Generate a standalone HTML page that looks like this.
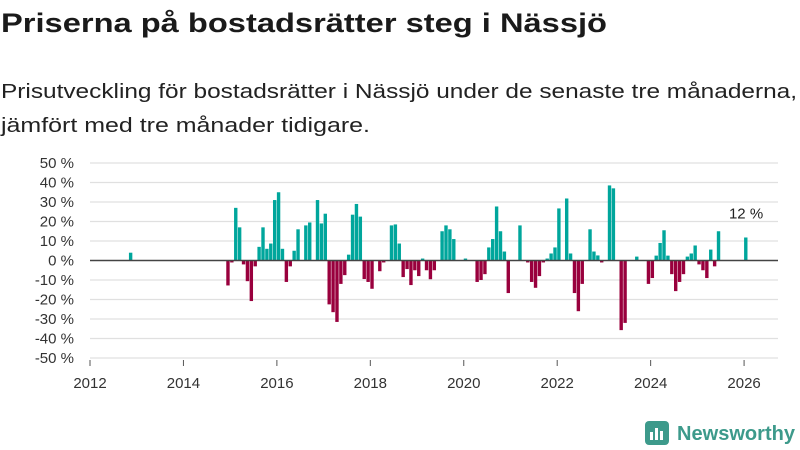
<!DOCTYPE html>
<html><head><meta charset="utf-8"><style>
html,body{margin:0;padding:0;background:#fff;width:800px;height:450px;overflow:hidden}
svg text{font-family:"Liberation Sans",sans-serif}
</style></head><body>
<svg id="chart" width="800" height="450" xmlns="http://www.w3.org/2000/svg">
<text x="1" y="32" font-size="27" font-weight="bold" fill="#1a1a1a" textLength="606" lengthAdjust="spacingAndGlyphs">Priserna på bostadsrätter steg i Nässjö</text>
<text x="1" y="98" font-size="20" fill="#222" textLength="796" lengthAdjust="spacingAndGlyphs">Prisutveckling för bostadsrätter i Nässjö under de senaste tre månaderna,</text>
<text x="1" y="132" font-size="20" fill="#222" textLength="369" lengthAdjust="spacingAndGlyphs">jämfört med tre månader tidigare.</text>
<g id="grid"></g>
<g id="yaxis"></g>
<g id="xaxis"></g>
<g id="bars"></g>
<g>
<rect x="645" y="421" width="24" height="24" rx="4" fill="#3d9a8b"/>
<rect x="650" y="432" width="3" height="8" fill="#fff"/><rect x="655" y="428" width="3" height="12" fill="#fff"/><rect x="660" y="431" width="3" height="9" fill="#fff"/>
<text x="677" y="440" font-size="20" font-weight="bold" fill="#3d9a8b" textLength="118" lengthAdjust="spacingAndGlyphs">Newsworthy</text>
</g>
</svg>
<script>
const months = ["2012-11","2014-12","2015-01","2015-02","2015-03","2015-04","2015-05","2015-06","2015-07","2015-08","2015-09","2015-10","2015-11","2015-12","2016-01","2016-02","2016-03","2016-04","2016-05","2016-06","2016-08","2016-09","2016-11","2016-12","2017-01","2017-02","2017-03","2017-04","2017-05","2017-06","2017-07","2017-08","2017-09","2017-10","2017-11","2017-12","2018-01","2018-03","2018-04","2018-06","2018-07","2018-08","2018-09","2018-10","2018-11","2018-12","2019-01","2019-02","2019-03","2019-04","2019-05","2019-07","2019-08","2019-09","2019-10","2020-01","2020-04","2020-05","2020-06","2020-07","2020-08","2020-09","2020-10","2020-11","2020-12","2021-03","2021-05","2021-06","2021-07","2021-08","2021-09","2021-10","2021-11","2021-12","2022-01","2022-03","2022-04","2022-05","2022-06","2022-07","2022-09","2022-10","2022-11","2022-12","2023-02","2023-03","2023-05","2023-06","2023-09","2023-12","2024-01","2024-02","2024-03","2024-04","2024-05","2024-06","2024-07","2024-08","2024-09","2024-10","2024-11","2024-12","2025-01","2025-02","2025-03","2025-04","2025-05","2025-06","2026-01"];
const values = [4,-12.8,-1,27,17,-2,-10.6,-20.8,-3,7,17,6,8.7,31,35,6,-11,-3,5,16,18,19.5,31,19,24,-22.5,-26.5,-31.5,-12,-7.5,3,23.5,29,22.5,-9.5,-11,-14.5,-5.5,-1,18,18.5,8.7,-8.5,-4.4,-12.6,-5,-8,1,-5,-9.6,-5,15,18,16,11,1,-11,-10,-7,6.7,11,27.7,15,4.6,-16.7,18,-1,-11,-14,-8,-1,1,3.6,6.7,26.7,31.8,3.6,-16.7,-26,-12,16,4.6,2.6,-1,38.5,37,-35.7,-32,2,-12,-9,2.5,9,15.5,2.5,-7,-15.7,-11,-7,2,3.6,7.7,-2,-5,-9,5.6,-3,15,11.8];
const yTicks = [50,40,30,20,10,0,-10,-20,-30,-40,-50];
const xTicks = [2012,2014,2016,2018,2020,2022,2024,2026];
const NS="http://www.w3.org/2000/svg";
const x0=90, yearW=46.72, yZero=260.5, pxPerPct=1.95;
const xScale = t => x0 + (t-2012)*yearW;
const yScale = v => yZero - v*pxPerPct;
function mk(tag, attrs, parent){const e=document.createElementNS(NS,tag);for(const k in attrs)e.setAttribute(k,attrs[k]);parent.appendChild(e);return e;}
const grid=document.getElementById('grid'), ya=document.getElementById('yaxis'), xa=document.getElementById('xaxis'), bars=document.getElementById('bars');
yTicks.forEach(v=>{
  if(v!==0){const l=mk('line',{x1:x0,x2:778,y1:yScale(v),y2:yScale(v),stroke:'#e0e0e0','stroke-width':1.2},grid);
  
  }
  const t=mk('text',{x:74,y:yScale(v)+5,'text-anchor':'end','font-size':15,fill:'#333'},ya);
  t.textContent=v+' %';
  
  
});
xTicks.forEach(yr=>{
  const x=xScale(yr);
  const tk=mk('line',{x1:x,x2:x,y1:360,y2:366,stroke:'#555','stroke-width':1},xa);
  
  
  const t=mk('text',{x:x,y:388,'text-anchor':'middle','font-size':15,fill:'#333'},xa);
  t.textContent=yr;
  
  
});
months.forEach((m,i)=>{
  const [yy,mm]=m.split('-').map(Number);
  const x=xScale(yy+(mm-1)/12);
  const v=values[i];
  const y=Math.min(yScale(v),yZero), h=Math.abs(yScale(v)-yZero);
  const r=mk('rect',{x:x,y:y,width:3.4,height:h,fill:v>=0?'#00a69c':'#99003d'},bars);
  
  
});
const zl=mk('line',{x1:x0,x2:778,y1:yZero,y2:yZero,stroke:'#444','stroke-width':1.6},bars);


const lastI=values.length-1;
const [ly,lm]=months[lastI].split('-').map(Number);
const lbl=mk('text',{x:xScale(ly+(lm-1)/12)+2,y:yScale(values[lastI])-19,'text-anchor':'middle','font-size':15,fill:'#222'},bars);
lbl.textContent=Math.round(values[lastI])+' %';


</script>
</body></html>
